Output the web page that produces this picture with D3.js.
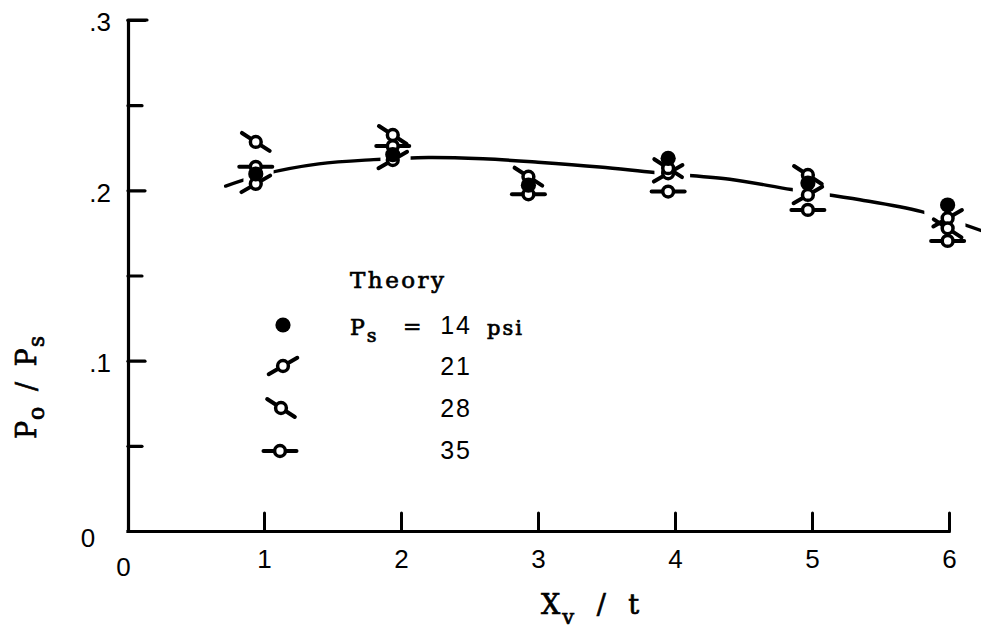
<!DOCTYPE html>
<html><head><meta charset="utf-8">
<script src="https://cdn.jsdelivr.net/npm/d3@7"></script>
<style>
html,body{margin:0;padding:0;background:#fff;}
svg{display:block;}
.mono{font-family:"DejaVu Serif","Liberation Serif",serif;font-weight:normal;stroke:#000;stroke-width:0.7px;}
.hand{font-family:"Liberation Sans","DejaVu Sans",sans-serif;}
</style></head><body>
<svg id="chart" width="981" height="632"></svg>
<script>
// ---- data ----
const xTicks = [0, 1, 2, 3, 4, 5, 6];
const yTicks = [0, 0.05, 0.1, 0.15, 0.2, 0.25, 0.3];
const yMajor = [0.1, 0.2, 0.3];
const yTickLabels = {"0.1": ".1", "0.2": ".2", "0.3": ".3"};
const clusterX = [0.94, 1.94, 2.93, 3.95, 4.97, 5.99];
const ps14 = [0.2096, 0.2210, 0.2030, 0.2188, 0.2043, 0.1914];
const ps21 = [0.2038, 0.2178, null, 0.2100, 0.1973, 0.1836];
const ps28 = [0.2284, 0.2325, 0.2080, 0.2130, 0.2090, 0.1777];
const ps35 = [0.2138, 0.2260, 0.1977, 0.1993, 0.1885, 0.1703];
const seriesNames = ["14", "21", "28", "35"];
const theoryX = [0.72, 1.0, 1.4, 1.8, 2.2, 2.6, 3.0, 3.45, 3.85, 4.4, 4.85, 5.35, 5.8, 6.25];
const theoryY = [0.2025, 0.2095, 0.2155, 0.2180, 0.2193, 0.2185, 0.2165, 0.2137, 0.2105, 0.2065, 0.2005, 0.1945, 0.1875, 0.1760];
const theoryGaps = [[0.85, 1.07], [1.85, 2.07], [3.85, 4.11], [4.86, 5.13], [5.82, 6.12]];

// ---- setup ----
const svg = d3.select("#chart");
const W = 981, H = 632;
svg.append("rect").attr("width", W).attr("height", H).attr("fill", "#fff");
const x = d3.scaleLinear().domain([0, 6]).range([127, 949]);
const y = d3.scaleLinear().domain([0, 0.3]).range([531, 20]);
const axisX0 = 128;
const HAND_SIZE = 26;

// ---- axes ----
const yAxis = svg.append("g").attr("transform", `translate(${axisX0},0)`)
  .call(d3.axisLeft(y).tickValues(yTicks).tickSize(0).tickSizeOuter(0).tickPadding(17)
    .tickFormat(d => yTickLabels[String(+d.toFixed(2))] || ""));
yAxis.attr("font-size", null).attr("font-family", null);
yAxis.selectAll("text").attr("class", "hand").style("font-size", HAND_SIZE + "px").attr("fill", "#000").attr("dy", "0.42em");
yAxis.select(".domain").attr("stroke-width", 3.2).attr("stroke-linecap", "square");
// major & minor ticks pointing inward
svg.append("g").attr("transform", `translate(${axisX0},0)`)
  .call(d3.axisLeft(y).tickValues(yMajor).tickSize(-17).tickFormat(""))
  .call(g => g.select(".domain").remove())
  .selectAll("line").attr("stroke-width", 3.2).attr("stroke-linecap", "round");
svg.append("g").attr("transform", `translate(${axisX0},0)`)
  .call(d3.axisLeft(y).tickValues(yTicks.filter(v => yMajor.indexOf(v) < 0 && v > 0)).tickSize(-14).tickFormat(""))
  .call(g => g.select(".domain").remove())
  .selectAll("line").attr("stroke-width", 3.2).attr("stroke-linecap", "round");
// top tick longer
svg.append("line").attr("x1", axisX0).attr("x2", axisX0 + 19).attr("y1", y(0.3)).attr("y2", y(0.3))
  .attr("stroke", "#000").attr("stroke-width", 3.2).attr("stroke-linecap", "round");
// y zero label
svg.append("text").attr("class", "hand").attr("x", axisX0 - 40).attr("y", y(0) + 16)
  .attr("text-anchor", "middle").style("font-size", HAND_SIZE + "px").text("0");

const xAxis = svg.append("g").attr("transform", `translate(0,${y(0)})`)
  .call(d3.axisBottom(x).tickValues(xTicks).tickSize(-18).tickSizeOuter(0).tickPadding(19).tickFormat(d3.format("d")));
xAxis.attr("font-size", null).attr("font-family", null);
xAxis.select(".domain").attr("stroke-width", 3.2).attr("stroke-linecap", "square")
  .attr("d", `M${axisX0},0.5H${x(6)}`);
xAxis.selectAll(".tick line").attr("stroke-width", 3).attr("stroke-linecap", "round")
  .filter(d => d === 0).remove();
xAxis.selectAll("text").attr("class", "hand").style("font-size", HAND_SIZE + "px").attr("fill", "#000");
xAxis.selectAll(".tick text").filter(d => d === 0).attr("x", -4).attr("dy", "1.0em");

// ---- axis titles ----
const yt = svg.append("text").attr("class", "mono").style("font-size", "27px").attr("letter-spacing", 1)
  .attr("word-spacing", 5)
  .attr("transform", `translate(36,387) rotate(-90)`).attr("text-anchor", "middle");
yt.append("tspan").text("P");
yt.append("tspan").style("font-size", "22px").attr("dy", 8).text("o");
yt.append("tspan").attr("dy", -8).text(" / P");
yt.append("tspan").style("font-size", "22px").attr("dy", 8).text("s");

const xt = svg.append("text").attr("class", "mono").style("font-size", "27px").attr("letter-spacing", 2)
  .attr("word-spacing", 10)
  .attr("x", 541).attr("y", 614);
xt.append("tspan").text("X");
xt.append("tspan").style("font-size", "21px").attr("dy", 10).text("v");
xt.append("tspan").attr("dy", -10).text(" / t");

// ---- theory curve with gaps ----
const defs = svg.append("defs");
const mask = defs.append("mask").attr("id", "gapMask").attr("maskUnits", "userSpaceOnUse")
  .attr("x", 0).attr("y", 0).attr("width", W).attr("height", H);
mask.append("rect").attr("width", W).attr("height", H).attr("fill", "white");
mask.selectAll("rect.gap").data(theoryGaps).join("rect").attr("class", "gap")
  .attr("x", d => x(d[0])).attr("width", d => x(d[1]) - x(d[0]))
  .attr("y", y(0.26)).attr("height", y(0.15) - y(0.26)).attr("fill", "black");
const line = d3.line().x((d, i) => x(theoryX[i])).y(d => y(d)).curve(d3.curveCatmullRom.alpha(0.5));
svg.append("path").attr("d", line(theoryY)).attr("fill", "none").attr("stroke", "#000")
  .attr("stroke-width", 3.4).attr("stroke-linecap", "round").attr("mask", "url(#gapMask)");

// ---- markers ----
function drawMarker(g, type, cx, cy) {
  if (type === "14") {
    g.append("circle").attr("cx", cx).attr("cy", cy).attr("r", 7.6).attr("fill", "#000");
    return;
  }
  const ang = type === "21" ? -30 : type === "28" ? 33 : 0;
  const rad = ang * Math.PI / 180, L = 16.5;
  g.append("line")
    .attr("x1", cx - L * Math.cos(rad)).attr("y1", cy - L * Math.sin(rad))
    .attr("x2", cx + L * Math.cos(rad)).attr("y2", cy + L * Math.sin(rad))
    .attr("stroke", "#000").attr("stroke-width", 4).attr("stroke-linecap", "round");
  g.append("circle").attr("cx", cx).attr("cy", cy).attr("r", 5.4).attr("fill", "#fff")
    .attr("stroke", "#000").attr("stroke-width", 3.5);
}
const seriesData = {"14": ps14, "21": ps21, "28": ps28, "35": ps35};
const drawOrder = ["21", "28", "35", "14"];
const mg = svg.append("g");
drawOrder.forEach(s => {
  seriesData[s].forEach((v, i) => {
    if (v == null) return;
    drawMarker(mg, s, x(clusterX[i]), y(v));
  });
});

// ---- legend ----
const lg = svg.append("g");
lg.append("text").attr("class", "mono").style("font-size", "23px").attr("letter-spacing", 2.5)
  .attr("x", 350).attr("y", 288).text("Theory");
const legendRows = [{s: "14", my: 325, mx: 283, ty: 334}, {s: "21", my: 366, mx: 283, ty: 375},
                    {s: "28", my: 408, mx: 281, ty: 417}, {s: "35", my: 451, mx: 280, ty: 459}];
legendRows.forEach(r => {
  drawMarker(lg, r.s, r.mx, r.my);
  lg.append("text").attr("class", "hand").style("font-size", "25px").attr("letter-spacing", 2)
    .attr("x", 472).attr("y", r.ty).attr("text-anchor", "end").text(r.s);
});
const pt = lg.append("text").attr("class", "mono").style("font-size", "22px").attr("x", 350).attr("y", 335);
pt.append("tspan").text("P");
pt.append("tspan").style("font-size", "19px").attr("dx", 2).attr("dy", 7).text("s");
lg.append("text").attr("class", "mono").style("font-size", "22px").attr("x", 403).attr("y", 334).text("=");
lg.append("text").attr("class", "mono").style("font-size", "21px").attr("letter-spacing", 2)
  .attr("x", 487).attr("y", 335).text("psi");
</script>
</body></html>
